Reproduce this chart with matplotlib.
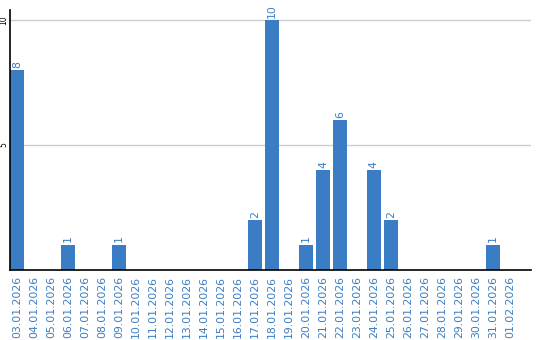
import matplotlib
matplotlib.use("Agg")
import matplotlib.pyplot as plt

dates = ["03.01.2026", "04.01.2026", "05.01.2026", "06.01.2026", "07.01.2026",
         "08.01.2026", "09.01.2026", "10.01.2026", "11.01.2026", "12.01.2026",
         "13.01.2026", "14.01.2026", "15.01.2026", "16.01.2026", "17.01.2026",
         "18.01.2026", "19.01.2026", "20.01.2026", "21.01.2026", "22.01.2026",
         "23.01.2026", "24.01.2026", "25.01.2026", "26.01.2026", "27.01.2026",
         "28.01.2026", "29.01.2026", "30.01.2026", "31.01.2026", "01.02.2026"]
values = [8, 0, 0, 1, 0, 0, 1, 0, 0, 0, 0, 0, 0, 0, 2, 10, 0, 1, 4, 6,
          0, 4, 2, 0, 0, 0, 0, 0, 1, 0]
yticks = [5, 10]

blue = "#3b7dc4"
fig = plt.figure(figsize=(5.4, 3.4), dpi=100)
ax = fig.add_axes([10/540, 70/340, 521/540, 260/340])
x = list(range(len(dates)))
ax.bar(x, values, width=0.82, color=blue, zorder=2)
for xi, v in zip(x, values):
    if v > 0:
        ax.text(xi, v + 0.1, str(v), rotation=90, ha="center", va="bottom",
                color=blue, fontsize=7.8, zorder=3)
ax.set_xlim(-0.41, 30.24)
ax.set_ylim(0, 10.4)
ax.set_yticks(yticks)
ax.set_yticklabels([str(t) for t in yticks], rotation=90, fontsize=5.5,
                   va="center", color="black")
ax.tick_params(axis="y", length=0, pad=1.5)
ax.set_xticks(x)
ax.set_xticklabels(dates, rotation=90, fontsize=7.8, color=blue)
ax.tick_params(axis="x", length=0, pad=4)
ax.grid(axis="y", color="#cccccc", linewidth=1, zorder=0)
for s in ["top", "right"]:
    ax.spines[s].set_visible(False)
for s in ["left", "bottom"]:
    ax.spines[s].set_color("black")
    ax.spines[s].set_linewidth(1.2)
ax.set_axisbelow(True)
fig.savefig("out.png", dpi=100)
